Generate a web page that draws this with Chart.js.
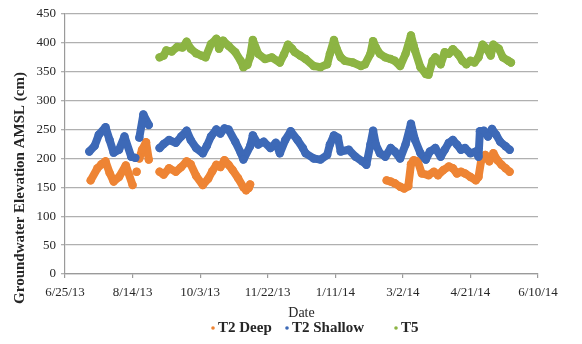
<!DOCTYPE html>
<html>
<head>
<meta charset="utf-8">
<script src="https://cdn.jsdelivr.net/npm/chart.js@4/dist/chart.umd.min.js"></script>
<style>
  html, body { margin: 0; padding: 0; background: #fff; }
  canvas { display: block; }
</style>
</head>
<body>
<canvas id="chart" width="582" height="344"></canvas>
<script>
// Day 0 of the date axis
const startDate = Date.UTC(2013, 5, 25);

// Axis ticks
const dayTicks = [0, 50, 100, 150, 200, 250, 300, 350];
const levelTicks = [0, 50, 100, 150, 200, 250, 300, 350, 400, 450];

// Series: T2 Deep (null = no record)
const deepDays = [19, 24, 27, 30, 33, 36, 40, 45, 50, 51, 53, 54, 55, 57, 60, 62, 66,
  70, 73, 77, 82, 86, 90, 93, 97, 102, 106, 109, 112, 115, 118, 121, 124, 128, 132, 134, 136, 137, 180,
  238, 241, 244, 248, 251, 254, 256, 258, 261, 264, 269, 273, 276, 280, 284, 287, 290, 293, 296,
  300, 304, 306, 308, 311, 314, 317, 320, 323, 326, 329];
const deepLevels = [162, 183, 190, 195, 175, 160, 168, 188, 154, null, 177, null, 200, 215, 228, 198, null,
  177, 172, 183, 177, 185, 195, 190, 170, 154, 165, 178, 189, 185, 197, 189, 180, 166, 150, 145, 149, 155, null,
  162, 160, 157, 151, 148, 152, 190, 197, 195, 174, 171, 177, 171, 180, 186, 183, 174, 177, 174,
  168, 162, 168, 197, 206, 195, 209, 197, 189, 183, 177];

// Series: T2 Shallow
const shallowDays = [18, 22, 25, 30, 33, 36, 40, 44, 49, 52, 53, 55, 58, 62, 66,
  70, 73, 77, 82, 86, 90, 93, 97, 102, 105, 108, 112, 115, 118, 121, 126, 130, 132, 137, 139, 143, 147,
  152, 156, 159, 163, 167, 172, 176, 178, 184, 189, 194, 196, 199, 202, 204, 210, 215, 220, 223, 226,
  228, 230, 233, 237, 241, 244, 248, 252, 256, 259, 263, 267, 270, 274, 278, 281, 284, 287, 290, 293,
  296, 300, 304, 306, 307, 310, 313, 316, 319, 322, 326, 329];
const shallowLevels = [212, 222, 241, 254, 232, 210, 215, 238, 203, 201, null, 236, 276, 258, null,
  218, 225, 232, 227, 238, 248, 232, 218, 209, 222, 238, 250, 243, 252, 250, 229, 210, 198, 221, 240, 224, 229,
  218, 227, 209, 232, 247, 232, 218, 209, 200, 198, 206, 224, 240, 236, 212, 215, 203, 195, 189, 224,
  248, 224, 209, 203, 218, 212, 200, 224, 260, 232, 209, 198, 212, 218, 203, 215, 227, 232, 224, 215,
  218, 209, 212, 203, 247, 248, 238, 251, 241, 229, 221, 215];

// Series: T5
const t5Days = [70, 73, 75, 79, 83, 87, 90, 93, 97, 101, 104, 108, 112, 114, 117, 121, 126, 130, 132, 135,
  137, 139, 143, 148, 153, 159, 162, 165, 168, 170, 174, 178, 184, 189, 194, 196, 199, 201, 204, 207,
  213, 219, 222, 226, 228, 230, 233, 237, 241, 244, 248, 252, 256, 258, 259, 263, 267, 269, 272, 274,
  278, 281, 284, 287, 291, 294, 297, 300, 303, 306, 309, 312, 315, 317, 321, 324, 328, 330];
const t5Levels = [375, 378, 387, 385, 393, 392, 402, 390, 382, 378, 375, 398, 407, 390, 404, 395, 384, 369, 358, 362,
  376, 405, 381, 372, 375, 366, 380, 397, 390, 384, 378, 372, 360, 358, 363, 381, 405, 390, 375, 369,
  366, 360, 363, 381, 403, 392, 381, 375, 372, 369, 360, 381, 413, 395, 387, 358, 346, 345, 369, 375,
  363, 384, 381, 389, 380, 369, 363, 369, 366, 375, 397, 390, 378, 397, 390, 375, 369, 366];

const seriesNames = ['T2 Deep', 'T2 Shallow', 'T5'];
const seriesColors = ['#EE8434', '#3D69B7', '#8CB443'];
const xTitle = 'Date';
const yTitle = 'Groundwater Elevation AMSL (cm)';

const SERIF = '"Liberation Serif", "Times New Roman", serif';

function fmtDay(d) {
  const t = new Date(startDate + d * 86400000);
  return (t.getUTCMonth() + 1) + '/' + t.getUTCDate() + '/' + String(t.getUTCFullYear()).slice(2);
}

function pairs(days, levels) {
  return days.map((d, i) => ({ x: d, y: levels[i] }));
}

function series(i, days, levels, order) {
  return {
    label: seriesNames[i],
    data: pairs(days, levels),
    borderColor: seriesColors[i],
    backgroundColor: seriesColors[i],
    showLine: true,
    borderWidth: 8,
    borderJoinStyle: 'round',
    borderCapStyle: 'round',
    pointRadius: 4.2,
    pointBorderWidth: 0,
    pointHoverRadius: 4.2,
    tension: 0,
    spanGaps: false,
    order: order
  };
}

// Rotated y title and dot legend below the axis title
const decorations = {
  id: 'decorations',
  afterDraw(chart) {
    const ctx = chart.ctx;
    ctx.save();
    ctx.fillStyle = '#262626';
    ctx.font = 'bold 15px ' + SERIF;
    ctx.textAlign = 'center';
    ctx.textBaseline = 'middle';
    ctx.translate(20, 188);
    ctx.rotate(-Math.PI / 2);
    ctx.fillText(yTitle, 0, 0);
    ctx.restore();

    const legendX = [213, 287, 396];
    const legendY = 328;
    ctx.save();
    ctx.font = 'bold 15px ' + SERIF;
    ctx.textAlign = 'left';
    ctx.textBaseline = 'middle';
    seriesNames.forEach((name, i) => {
      ctx.fillStyle = seriesColors[i];
      ctx.beginPath();
      ctx.arc(legendX[i], legendY, 1.8, 0, Math.PI * 2);
      ctx.fill();
      ctx.fillStyle = '#262626';
      ctx.fillText(name, legendX[i] + 5, legendY + 0.5);
    });
    ctx.restore();
  }
};

new Chart(document.getElementById('chart'), {
  type: 'scatter',
  data: {
    datasets: [
      series(0, deepDays, deepLevels, 3),
      series(1, shallowDays, shallowLevels, 2),
      series(2, t5Days, t5Levels, 1)
    ]
  },
  options: {
    responsive: false,
    animation: false,
    layout: { padding: { left: 0, right: 44, top: 14, bottom: 22 } },
    plugins: {
      legend: { display: false },
      tooltip: { enabled: false }
    },
    scales: {
      x: {
        type: 'linear',
        min: 0,
        max: 350,
        afterBuildTicks(scale) { scale.ticks = dayTicks.map(v => ({ value: v })); },
        afterFit(scale) { scale.height = 48; },
        ticks: {
          callback: v => fmtDay(v),
          font: { family: SERIF, size: 13 },
          color: '#262626',
          padding: 7,
          maxRotation: 0,
          autoSkip: false
        },
        grid: { drawOnChartArea: false, drawTicks: true, tickLength: 4, color: '#9a9a9a', lineWidth: 1.2 },
        border: { display: true, color: '#9a9a9a', width: 1.2 },
        title: { display: true, text: xTitle, font: { family: SERIF, size: 14 }, color: '#262626', padding: 0 }
      },
      y: {
        min: 0,
        max: 450,
        afterBuildTicks(scale) { scale.ticks = levelTicks.map(v => ({ value: v })); },
        afterFit(scale) { scale.width = 65; },
        ticks: {
          font: { family: SERIF, size: 13 },
          color: '#262626',
          padding: 5
        },
        grid: { color: '#b0b0b0', lineWidth: 1.3, drawTicks: true, tickLength: 4 },
        border: { display: true, color: '#9a9a9a', width: 1.2 }
      }
    }
  },
  plugins: [decorations]
});
</script>
</body>
</html>
